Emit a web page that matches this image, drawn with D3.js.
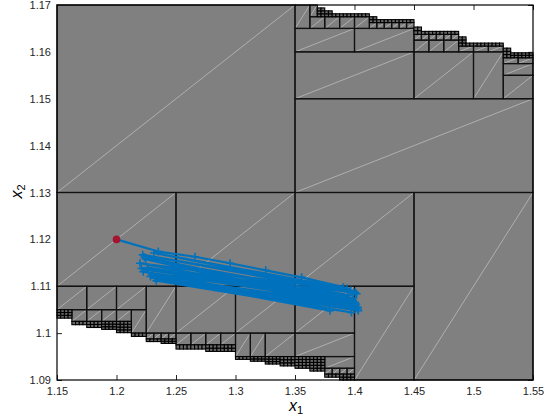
<!DOCTYPE html>
<html>
<head>
<meta charset="utf-8">
<script src="https://cdn.jsdelivr.net/npm/d3@7"></script>
<style>
body{margin:0;background:#fff;}
text{font-family:"Liberation Sans",Arial,sans-serif;}
</style>
</head>
<body>
<svg id="chart" width="551" height="417"></svg>
<script>
const xTicks = [1.15, 1.2, 1.25, 1.3, 1.35, 1.4, 1.45, 1.5, 1.55];
const yTicks = [1.09, 1.1, 1.11, 1.12, 1.13, 1.14, 1.15, 1.16, 1.17];

// subdivision boxes: [x0, x1, y0, y1, cols, rows]
const boxes = [
    [1.15, 1.35, 1.13, 1.17, 1, 1],
    [1.35, 1.55, 1.13, 1.15, 1, 1],
    [1.35, 1.45, 1.15, 1.16, 1, 1],
    [1.45, 1.50, 1.15, 1.16, 1, 1],
    [1.50, 1.525, 1.15, 1.16, 1, 1],
    [1.525, 1.55, 1.15, 1.155, 1, 1],
    [1.525, 1.55, 1.155, 1.1575, 1, 1],
    [1.35, 1.40, 1.16, 1.165, 1, 1],
    [1.40, 1.45, 1.16, 1.165, 1, 1],
    [1.35, 1.3625, 1.165, 1.17, 1, 1],
    [1.3625, 1.4125, 1.165, 1.1675, 4, 1],
    [1.3625, 1.36875, 1.1675, 1.17, 1, 1],
    [1.4125, 1.45, 1.165, 1.16625, 6, 1],
    [1.45, 1.4875, 1.16, 1.1625, 3, 1],
    [1.45, 1.4875, 1.1625, 1.16375, 6, 1],
    [1.4875, 1.525, 1.16, 1.16125, 3, 1],
    [1.525, 1.55, 1.1575, 1.15875, 2, 1],
    [1.15, 1.25, 1.11, 1.13, 1, 1],
    [1.25, 1.35, 1.11, 1.13, 1, 1],
    [1.35, 1.45, 1.11, 1.13, 1, 1],
    [1.45, 1.55, 1.09, 1.13, 1, 1],
    [1.40, 1.45, 1.09, 1.11, 1, 1],
    [1.35, 1.40, 1.10, 1.11, 1, 1],
    [1.35, 1.40, 1.095, 1.10, 1, 1],
    [1.375, 1.40, 1.0925, 1.095, 1, 1],
    [1.375, 1.40, 1.09125, 1.0925, 4, 1],
    [1.15, 1.225, 1.105, 1.11, 3, 1],
    [1.225, 1.25, 1.10, 1.11, 1, 1],
    [1.25, 1.30, 1.10, 1.11, 1, 1],
    [1.30, 1.35, 1.10, 1.11, 1, 1],
    [1.1625, 1.2125, 1.1025, 1.105, 4, 1],
    [1.2125, 1.225, 1.10, 1.105, 1, 1],
    [1.225, 1.25, 1.09875, 1.10, 4, 1],
    [1.25, 1.30, 1.0975, 1.10, 4, 1],
    [1.30, 1.325, 1.095, 1.10, 2, 1],
    [1.325, 1.35, 1.095, 1.10, 1, 1]
];

// fine strip under the upper edge: [x0, x1, yFloor, yTop]
const upperStrip = [
    [1.36875, 1.375, 1.1675, 1.16938],
    [1.375, 1.38125, 1.1675, 1.16875],
    [1.38125, 1.4125, 1.1675, 1.168125],
    [1.4125, 1.41875, 1.16625, 1.1675],
    [1.41875, 1.45, 1.16625, 1.166875],
    [1.45, 1.45625, 1.16375, 1.1653],
    [1.45625, 1.4875, 1.16375, 1.164375],
    [1.4875, 1.49375, 1.16125, 1.1632],
    [1.49375, 1.525, 1.16125, 1.161875],
    [1.525, 1.53125, 1.15875, 1.1608],
    [1.53125, 1.55, 1.15875, 1.1598]
];

// fine strip over the lower edge: [x0, x1, yBottom, yFloor]
const lowerStrip = [
    [1.15, 1.1625, 1.1032, 1.105],
    [1.1625, 1.175, 1.1018, 1.1025],
    [1.175, 1.1875, 1.1012, 1.1025],
    [1.1875, 1.20, 1.1008, 1.1025],
    [1.20, 1.2125, 1.1001, 1.1025],
    [1.2125, 1.225, 1.0993, 1.10],
    [1.225, 1.2375, 1.0982, 1.09875],
    [1.2375, 1.25, 1.0978, 1.09875],
    [1.25, 1.275, 1.0966, 1.0975],
    [1.275, 1.30, 1.0961, 1.0975],
    [1.30, 1.3125, 1.0944, 1.095],
    [1.3125, 1.325, 1.0940, 1.095],
    [1.325, 1.3375, 1.0934, 1.095],
    [1.3375, 1.35, 1.0930, 1.095],
    [1.35, 1.3625, 1.0925, 1.095],
    [1.3625, 1.375, 1.0919, 1.095],
    [1.375, 1.3875, 1.0906, 1.09125],
    [1.3875, 1.40, 1.0900, 1.09125]
];

const startPoint = [1.2, 1.12];
const pathX = [1.2, 1.2351, 1.266, 1.2954, 1.3254, 1.3556, 1.3906, 1.4018,
    1.222, 1.3968, 1.2197, 1.4004, 1.2225, 1.4032, 1.2324, 1.3794, 1.2624, 1.401,
    1.226, 1.399, 1.23, 1.4025, 1.2245, 1.395, 1.221, 1.4015, 1.2285, 1.3975, 1.2335, 1.4028,
    1.2235, 1.3985, 1.2265, 1.4005, 1.2315, 1.3935];
const pathY = [1.12, 1.1174, 1.1163, 1.1149, 1.1134, 1.1119, 1.1098, 1.1084,
    1.1167, 1.1091, 1.1149, 1.1066, 1.1131, 1.1048, 1.1117, 1.1048, 1.1108, 1.1058,
    1.114, 1.1075, 1.1125, 1.1052, 1.1158, 1.1081, 1.1138, 1.1062, 1.1121, 1.1044, 1.1112, 1.1055,
    1.1162, 1.107, 1.1135, 1.1087, 1.1171, 1.1095];

const cellW = 0.003125, cellH = 0.000625;
const grayFill = '#808080';

const svg = d3.select('#chart');
const mL = 57, mR = 533, mT = 5, mB = 380;
const x = d3.scaleLinear().domain([1.15, 1.55]).range([mL, mR]);
const y = d3.scaleLinear().domain([1.09, 1.17]).range([mB, mT]);
const fmt = v => String(+v.toFixed(2));

// axes first (patches sit on top, like Layer bottom)
svg.append('g').attr('transform', `translate(0,${mB})`)
    .call(d3.axisBottom(x).tickValues(xTicks).tickFormat(fmt).tickSize(-5).tickPadding(7));
svg.append('g').attr('transform', `translate(${mL},0)`)
    .call(d3.axisLeft(y).tickValues(yTicks).tickFormat(fmt).tickSize(-5).tickPadding(6));
svg.append('g').attr('transform', `translate(0,${mT})`)
    .call(d3.axisTop(x).tickValues(xTicks).tickFormat('').tickSize(-5));
svg.append('g').attr('transform', `translate(${mR},0)`)
    .call(d3.axisRight(y).tickValues(yTicks).tickFormat('').tickSize(-5));
svg.selectAll('.domain').remove();
svg.selectAll('.tick line').attr('stroke', '#262626');
svg.selectAll('.tick text').attr('font-size', 11).attr('fill', '#262626')
    .attr('font-family', '"Liberation Sans",Arial,sans-serif');

// covered region
let outline = [[1.15, 1.17], [upperStrip[0][0], 1.17]];
upperStrip.forEach(s => { outline.push([s[0], s[3]], [s[1], s[3]]); });
outline.push([1.55, 1.09]);
lowerStrip.slice().reverse().forEach(s => { outline.push([s[1], s[2]], [s[0], s[2]]); });
svg.append('path')
    .attr('d', d3.line().x(d => x(d[0])).y(d => y(d[1]))(outline) + 'Z')
    .attr('fill', grayFill);

function split(x0, x1, y0, y1, nc, nr){
    let out = [];
    for(let i = 0; i < nc; i++){
        for(let j = 0; j < nr; j++){
            out.push([x0 + (x1 - x0) * i / nc, x0 + (x1 - x0) * (i + 1) / nc,
                      y0 + (y1 - y0) * j / nr, y0 + (y1 - y0) * (j + 1) / nr]);
        }
    }
    return out;
}

let cells = [];
boxes.forEach(b => { cells = cells.concat(split(...b)); });

let fine = [];
upperStrip.concat(lowerStrip).forEach(s => {
    fine = fine.concat(split(s[0], s[1], s[2], s[3],
        Math.max(1, Math.round((s[1] - s[0]) / cellW)), Math.max(1, Math.round((s[3] - s[2]) / cellH))));
});

const g = svg.append('g');
g.selectAll('line.diag').data(cells).join('line').attr('class', 'diag')
    .attr('x1', d => x(d[0])).attr('y1', d => y(d[2]))
    .attr('x2', d => x(d[1])).attr('y2', d => y(d[3]))
    .attr('stroke', '#cfcfcf').attr('stroke-width', 0.6);
g.selectAll('rect.box').data(cells).join('rect').attr('class', 'box')
    .attr('x', d => x(d[0])).attr('y', d => y(d[3]))
    .attr('width', d => x(d[1]) - x(d[0])).attr('height', d => y(d[2]) - y(d[3]))
    .attr('fill', 'none').attr('stroke', '#111').attr('stroke-width', 1.2);
g.selectAll('rect.fine').data(fine).join('rect').attr('class', 'fine')
    .attr('x', d => x(d[0])).attr('y', d => y(d[3]))
    .attr('width', d => x(d[1]) - x(d[0])).attr('height', d => y(d[2]) - y(d[3]))
    .attr('fill', '#6a6a6a').attr('stroke', '#000').attr('stroke-width', 1.1);

// frame
svg.append('rect').attr('x', mL).attr('y', mT)
    .attr('width', mR - mL).attr('height', mB - mT)
    .attr('fill', 'none').attr('stroke', '#000').attr('stroke-width', 1.2);

// trajectory
const pts = pathX.map((v, i) => [v, pathY[i]]);
svg.append('path')
    .attr('d', d3.line().x(d => x(d[0])).y(d => y(d[1]))(pts))
    .attr('fill', 'none').attr('stroke', '#0072BD').attr('stroke-width', 2.2)
    .attr('stroke-linejoin', 'round');
svg.selectAll('path.plus').data(pts.slice(1)).join('path').attr('class', 'plus')
    .attr('d', d => `M${x(d[0]) - 4},${y(d[1])}h8M${x(d[0])},${y(d[1]) - 4}v8`)
    .attr('stroke', '#0072BD').attr('stroke-width', 1.6);
svg.append('circle')
    .attr('cx', x(startPoint[0])).attr('cy', y(startPoint[1])).attr('r', 3.8)
    .attr('fill', '#A2142F');

// axis titles
const xl = svg.append('text').attr('x', (mL + mR) / 2 - 6).attr('y', 411)
    .attr('font-family', '"Liberation Serif","Times New Roman",serif').attr('font-size', 16).attr('fill', '#000');
xl.append('tspan').attr('font-style', 'italic').text('x');
xl.append('tspan').attr('font-size', 11).attr('dy', 3).text('1');
const yl = svg.append('text').attr('transform', `translate(22,${(mT + mB) / 2 + 6}) rotate(-90)`)
    .attr('font-family', '"Liberation Serif","Times New Roman",serif').attr('font-size', 16).attr('fill', '#000');
yl.append('tspan').attr('font-style', 'italic').text('x');
yl.append('tspan').attr('font-size', 11).attr('dy', 3).text('2');
</script>
</body>
</html>
